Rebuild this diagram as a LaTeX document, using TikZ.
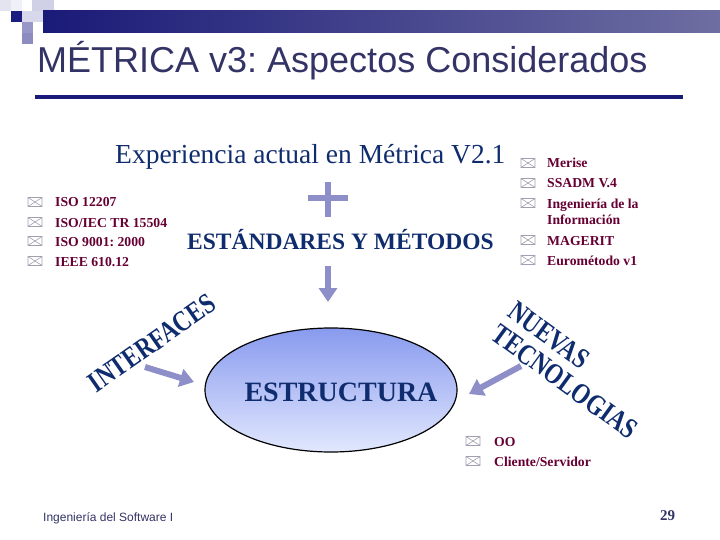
\documentclass[tikz,border=0pt]{standalone}
\usepackage{fontspec}
\setmainfont{Liberation Serif}
\newfontfamily\arialf{Liberation Sans}
\usetikzlibrary{arrows.meta,shapes.geometric}
\frenchspacing
\definecolor{navy}{HTML}{0F2C6E}
\definecolor{maroonc}{HTML}{660033}
\definecolor{lav}{HTML}{8E8EC8}
\definecolor{titlec}{HTML}{333366}
\definecolor{icong}{HTML}{A0A0B0}
\definecolor{barL}{HTML}{1A1A78}
\definecolor{barR}{HTML}{6E6EA2}
\definecolor{sqA}{HTML}{E4E4F0}
\definecolor{sqB}{HTML}{F0F0F8}
\definecolor{sqC}{HTML}{D0D0E6}
\definecolor{sqD}{HTML}{D8D8EC}
\definecolor{sqE}{HTML}{1C1C80}
\definecolor{sqF}{HTML}{9898C8}
\definecolor{sqG}{HTML}{8C8CC0}
\definecolor{ellT}{HTML}{889AEE}
\definecolor{ellB}{HTML}{E2E8FE}
\begin{document}
\begin{tikzpicture}[x=1pt,y=-1pt,
  lst/.style={anchor=base west, inner sep=0pt, font=\bfseries\fontsize{13.7}{15}\selectfont, text=maroonc},
  bigarrow/.style={draw=lav, line width=6pt, -{Triangle[width=18pt,length=14pt]}},
  rotword/.style={inner sep=0pt, font=\bfseries\fontsize{29}{32}\selectfont, text=navy},
  envicon/.pic={\draw[icong, line width=0.6pt] (-7,-4.5) rectangle (7,4.5) (-7,-4.5) -- (7,4.5) (-7,4.5) -- (7,-4.5);}
]
\useasboundingbox (0,0) rectangle (720,540);
% header decoration
\fill[sqA] (0,0) rectangle (11,11);
\fill[sqB] (11,0) rectangle (22,11);
\fill[sqC] (32,0) rectangle (54,11);
\fill[sqD] (22,11) rectangle (43,22);
\fill[sqE] (11,11) rectangle (22,22);
\fill[sqF] (22,22) rectangle (33,33);
\fill[sqG] (22,33) rectangle (33,44);
\shade[left color=barL, right color=barR] (43,11) rectangle (720,33);
% title
\node[anchor=base west, inner sep=0pt, font=\arialf\fontsize{36}{40}\selectfont, text=titlec] (title) at (37,73) {MÉTRICA v3: Aspectos Considerados};
\draw[barL, line width=4pt] (35,97) -- (683,97);
% top text
\node[anchor=base west, inner sep=0pt, font=\fontsize{27.5}{30}\selectfont, text=navy] (exp) at (115,164) {Experiencia actual en Métrica V2.1};
\draw[lav, line width=6pt] (328,182) -- (328,217) (308,198) -- (348,198);
\node[anchor=base west, inner sep=0pt, font=\bfseries\fontsize{23.5}{26}\selectfont, text=navy] (est) at (187,249) {ESTÁNDARES Y MÉTODOS};
\coordinate (d1) at (328,266);
\coordinate (d2) at (328,302);
\draw[bigarrow] (d1) -- (d2);
% left list
\pic at (35,202) {envicon};
\node[lst] (l1) at (55,207) {ISO 12207};
\pic at (35,222) {envicon};
\node[lst] (l2) at (55,227) {ISO/IEC TR 15504};
\pic at (35,241) {envicon};
\node[lst] (l3) at (55,246) {ISO 9001: 2000};
\pic at (35,261) {envicon};
\node[lst] (l4) at (55,266) {IEEE 610.12};
% right list
\pic at (528,163) {envicon};
\node[lst] (r1) at (547,168) {Merise};
\pic at (528,183) {envicon};
\node[lst] (r2) at (547,188) {SSADM V.4};
\pic at (528,203) {envicon};
\node[lst] (r3) at (547,208) {Ingeniería de la};
\node[lst] (r3b) at (547,225) {Información};
\pic at (528,240) {envicon};
\node[lst] (r4) at (547,245) {MAGERIT};
\pic at (528,260) {envicon};
\node[lst] (r5) at (547,265) {Eurométodo v1};
% ellipse
\node[ellipse, draw=black, line width=1.2pt, minimum width=252pt, minimum height=124pt, inner sep=0pt, top color=ellT, bottom color=ellB] (estr) at (331,390) {};
\node[inner sep=0pt, font=\bfseries\fontsize{28}{32}\selectfont, text=navy] (estrt) at (341,392) {ESTRUCTURA};
% interfaces
\node[rotword, rotate=35] (interf) at (152,343) {\scalebox{0.8}[1]{INTERFACES}};
\coordinate (ia1) at (145,367);
\coordinate (ia2) at (194,382);
\draw[bigarrow] (ia1) -- (ia2);
% nuevas tecnologias
\node[rotword, rotate=-36] (nuev) at (549,335) {\scalebox{0.8}[1]{NUEVAS}};
\node[rotword, rotate=-36] (tecn) at (565,382) {\scalebox{0.8}[1]{TECNOLOGIAS}};
\coordinate (na1) at (521,366);
\coordinate (na2) at (469,394);
\draw[bigarrow] (na1) -- (na2);
% bottom list
\pic at (473,441) {envicon};
\node[lst] (b1) at (494,446) {OO};
\pic at (473,461) {envicon};
\node[lst] (b2) at (494,466) {Cliente/Servidor};
% footer
\node[anchor=base west, inner sep=0pt, font=\arialf\fontsize{12}{14}\selectfont, text=titlec] (foot) at (43,521) {Ingeniería del Software I};
\node[anchor=base west, inner sep=0pt, font=\bfseries\fontsize{15}{17}\selectfont, text=titlec] (pg) at (660,520) {29};
\end{tikzpicture}
\end{document}
